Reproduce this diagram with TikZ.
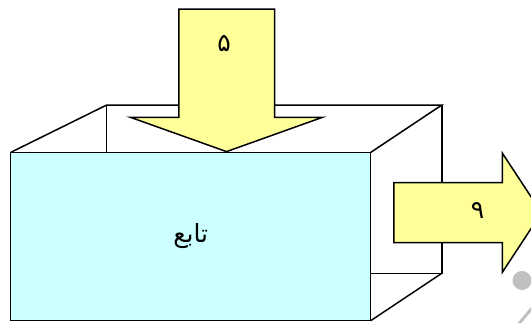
\documentclass[tikz,border=0pt]{standalone}
\usepackage{fontspec}
\usepackage{xcolor}
\usetikzlibrary{calc}
\newfontfamily\arabicfont[Script=Arabic]{DejaVu Sans}
\TeXXeTstate=1
\definecolor{CianCara}{RGB}{204,255,255}
\definecolor{AmarilloFlecha}{RGB}{255,255,153}
\definecolor{GrisMarca}{RGB}{192,192,192}

\tikzset{
  arista/.style={line width=1.5pt,line join=miter},
  flecha/.style={arista,fill=AmarilloFlecha},
  rotulo/.style={font=\arabicfont\fontsize{25}{30}\selectfont,inner sep=0pt},
}

\begin{document}
\begin{tikzpicture}[x=1pt,y=-1pt]
  \clip (0,0) rectangle (531,322);

  % Fondo de la caja (aristas traseras)
  \coordinate (AtrasSI) at (106.7,105);
  \coordinate (AtrasSD) at (441.8,105);
  \coordinate (AtrasID) at (441.8,273.3);
  \draw[arista] (10.7,152.4) -- (AtrasSI) -- (AtrasSD) -- (370.7,152.4);
  \draw[arista] (AtrasSI) -- (106.7,152.4);
  \draw[arista] (AtrasSD) -- (AtrasID) -- (370.7,273.3);
  \draw[arista] (AtrasID) -- (370.7,320.7);

  % Cara frontal
  \node[arista,rotulo,draw,fill=CianCara,minimum width=360pt,
        minimum height=168.3pt] (cara) at (190.7,236.5) {\beginR تابع\endR};

  % Flecha de entrada
  \draw[flecha] (178.8,9) -- (274.5,9) -- (274.5,117.3) -- (322.5,117.3)
    -- (cara.north -| 226.5,0) -- (130.4,117.3) -- (178.8,117.3) -- cycle;
  \node[rotulo] (entrada) at (224,44) {\beginR ۵\endR};

  % Flecha de salida
  \draw[flecha] (393.8,182.7) -- (502.4,182.7) -- (502.4,153.2) -- (541.5,212.7)
    -- (502.4,272.2) -- (502.4,242.7) -- (393.8,242.7) -- cycle;
  \node[rotulo] (salida) at (477.5,211) {\beginR ۹\endR};

  % Marcas grises del borde
  \fill[GrisMarca] (522,280.5) circle (9.5);
  \draw[GrisMarca,line width=3pt] (517,326) -- (537,302);
\end{tikzpicture}
\end{document}
